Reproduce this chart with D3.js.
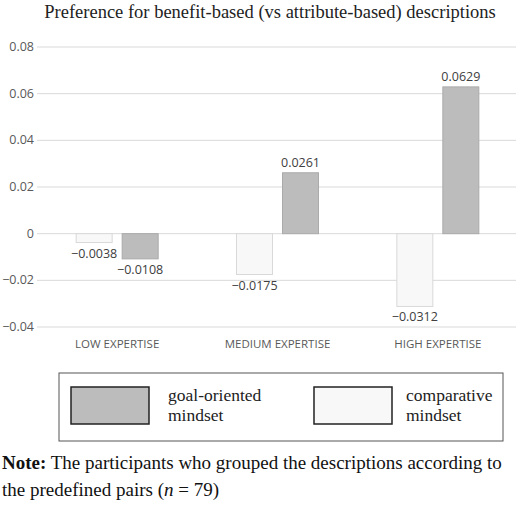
<!DOCTYPE html>
<html><head><meta charset="utf-8">
<script src="https://cdn.jsdelivr.net/npm/d3@7"></script>
<style>body{margin:0;background:#fff}</style>
</head><body>
<script>
var categories = ["LOW EXPERTISE", "MEDIUM EXPERTISE", "HIGH EXPERTISE"];
var comparative = [-0.0038, -0.0175, -0.0312];
var goalOriented = [-0.0108, 0.0261, 0.0629];
var yTicks = [-0.04, -0.02, 0, 0.02, 0.04, 0.06, 0.08];

var svg = d3.select("body").append("svg").attr("width", 520).attr("height", 510);
var fmt = function(v) { return v === 0 ? "0" : (v < 0 ? "\u2212" : "") + Math.abs(v); };

var x = d3.scaleBand().domain(categories).range([37, 518]);
var y = d3.scaleLinear().domain([-0.04, 0.08]).range([327, 47]);

svg.append("text").attr("x", 270).attr("y", 18).attr("text-anchor", "middle")
  .style("font", "18.5px 'Liberation Serif'").attr("fill", "#222")
  .text("Preference for benefit-based (vs attribute-based) descriptions");

// gridlines and tick labels
svg.selectAll("line.grid").data(yTicks).enter().append("line")
  .attr("x1", 37).attr("x2", 516).attr("y1", d => y(d)).attr("y2", d => y(d))
  .attr("stroke", "#d9d9d9").attr("stroke-width", 1);
svg.selectAll("text.tick").data(yTicks).enter().append("text")
  .attr("x", 34).attr("y", d => y(d) + 4).attr("text-anchor", "end")
  .style("font", "12.5px 'Open Sans'").attr("fill", "#595959").text(fmt);

var bw = 36, gap = 10;
function drawSeries(vals, off, fill, stroke) {
  categories.forEach(function(c, i) {
    var cx = x(c) + x.bandwidth() / 2;
    var v = vals[i];
    svg.append("rect").attr("x", cx + off).attr("width", bw)
      .attr("y", Math.min(y(v), y(0))).attr("height", Math.abs(y(v) - y(0)))
      .attr("fill", fill).attr("stroke", stroke);
    svg.append("text").attr("x", cx + off + bw / 2)
      .attr("y", v >= 0 ? y(v) - 6 : y(v) + 15).attr("text-anchor", "middle")
      .style("font", "12.5px 'Open Sans'").attr("fill", "#404040").text(fmt(v));
  });
}
drawSeries(comparative, -bw - gap / 2, "#f8f8f8", "#d9d9d9");
drawSeries(goalOriented, gap / 2, "#bcbcbc", "#aaaaaa");

svg.selectAll("text.cat").data(categories).enter().append("text")
  .attr("x", d => x(d) + x.bandwidth() / 2).attr("y", 348).attr("text-anchor", "middle")
  .style("font", "11.5px 'Open Sans'").attr("fill", "#595959").text(d => d);

// legend
svg.append("rect").attr("x", 59).attr("y", 373).attr("width", 444).attr("height", 68)
  .attr("fill", "none").attr("stroke", "#555");
var legend = [["goal-oriented", "mindset", "#bcbcbc", 71, 168], ["comparative", "mindset", "#f8f8f8", 314, 406]];
legend.forEach(function(l) {
  svg.append("rect").attr("x", l[3]).attr("y", 387).attr("width", 78).attr("height", 37)
    .attr("fill", l[2]).attr("stroke", "#222").attr("stroke-width", 1.5);
  svg.append("text").attr("x", l[4]).attr("y", 401).style("font", "17.5px 'Liberation Serif'").attr("fill", "#222").text(l[0]);
  svg.append("text").attr("x", l[4]).attr("y", 421).style("font", "17.5px 'Liberation Serif'").attr("fill", "#222").text(l[1]);
});

var note = svg.append("text").attr("x", 2).attr("y", 469).style("font", "19px 'Liberation Serif'").attr("fill", "#111");
note.append("tspan").attr("font-weight", "bold").text("Note:");
note.append("tspan").text(" The participants who grouped the descriptions according to");
var n2 = svg.append("text").attr("x", 2).attr("y", 496).style("font", "19px 'Liberation Serif'").attr("fill", "#111");
n2.append("tspan").text("the predefined pairs (");
n2.append("tspan").attr("font-style", "italic").text("n");
n2.append("tspan").text(" = 79)");
</script>
</body></html>
